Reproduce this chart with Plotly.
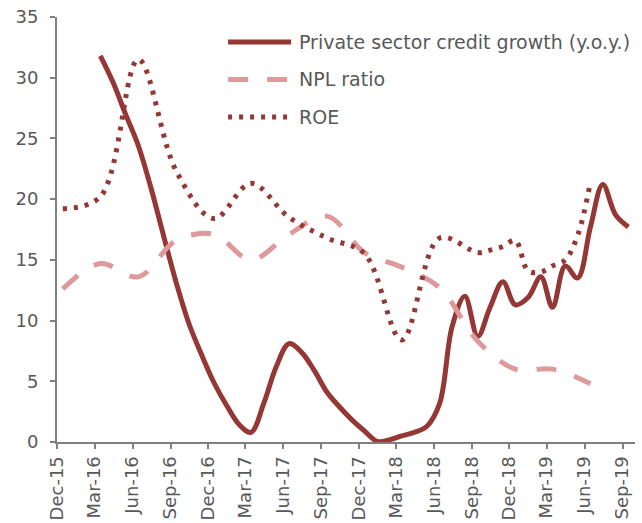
import pandas as pd
import plotly.graph_objects as go

# Private sector credit growth (y.o.y., %), monthly Mar-16 .. Sep-19
credit_start, credit_end = "2016-03", "2019-09"
credit_values = [31.8, 29.6, 27.0, 24.4, 21.0, 17.0, 13.1, 9.8, 7.2, 4.9,
                 3.0, 1.4, 0.8, 3.2, 6.2, 8.1, 7.4, 5.9, 4.1, 2.9,
                 1.8, 0.9, 0.05, 0.2, 0.5, 0.8, 1.3, 3.2, 9.5, 12.0,
                 8.7, 11.1, 13.2, 11.3, 11.9, 13.6, 11.1, 14.5, 13.5, 17.7,
                 21.2, 18.7, 17.7]

# NPL ratio (%), quarterly Dec-15 .. Jun-19
npl_months = ["2015-12", "2016-03", "2016-06", "2016-09", "2016-12",
              "2017-03", "2017-06", "2017-09", "2017-12", "2018-03",
              "2018-06", "2018-09", "2018-12", "2019-03", "2019-06"]
npl_values = [12.6, 14.7, 13.6, 16.6, 17.1, 15.0, 17.1, 18.6, 15.6, 14.4,
              12.7, 8.3, 6.0, 6.0, 4.8]

# ROE (%), quarterly to Sep-18, monthly afterwards
roe_months = ["2015-12", "2016-03", "2016-06", "2016-09", "2016-12",
              "2017-03", "2017-06", "2017-09", "2017-12", "2018-03",
              "2018-06", "2018-09", "2018-10", "2018-11", "2018-12",
              "2019-01", "2019-02", "2019-03", "2019-04", "2019-05",
              "2019-06"]
roe_values = [19.2, 20.2, 31.5, 22.3, 18.4, 21.3, 18.5, 16.8, 15.5, 8.4,
              16.8, 15.6, 15.8, 16.1, 16.6, 14.1, 14.0, 14.5, 15.0, 17.0,
              21.4]

# Axis tick labels (quarterly)
tick_months = ["2015-12", "2016-03", "2016-06", "2016-09", "2016-12",
               "2017-03", "2017-06", "2017-09", "2017-12", "2018-03",
               "2018-06", "2018-09", "2018-12", "2019-03", "2019-06",
               "2019-09"]
tick_labels = ["Dec-15", "Mar-16", "Jun-16", "Sep-16", "Dec-16", "Mar-17",
               "Jun-17", "Sep-17", "Dec-17", "Mar-18", "Jun-18", "Sep-18",
               "Dec-18", "Mar-19", "Jun-19", "Sep-19"]

series_names = ["Private sector credit growth (y.o.y.)", "NPL ratio", "ROE"]

DARK_RED = "#953735"
PINK = "#DE9A9A"
AXIS_GREY = "#808080"
TEXT_GREY = "#595959"
FONT = "DejaVu Sans"
DASH = "20px,19px"
DOT = "4px,7px"


def mid_month(months):
    # observations sit in the middle of their month
    return [pd.Timestamp(m + "-01") + pd.Timedelta(days=14) for m in months]


credit_months = [d.strftime("%Y-%m") for d in
                 pd.period_range(credit_start, credit_end, freq="M").to_timestamp()]

fig = go.Figure()

fig.add_trace(go.Scatter(
    x=mid_month(credit_months), y=credit_values, name=series_names[0],
    mode="lines", line=dict(color=DARK_RED, width=5, shape="spline", smoothing=1),
))
fig.add_trace(go.Scatter(
    x=mid_month(npl_months), y=npl_values, name=series_names[1],
    mode="lines", line=dict(color=PINK, width=5, shape="spline", smoothing=1,
                            dash=DASH),
))
fig.add_trace(go.Scatter(
    x=mid_month(roe_months), y=roe_values, name=series_names[2],
    mode="lines", line=dict(color=DARK_RED, width=5, shape="spline", smoothing=1,
                            dash=DOT),
))

# Legend drawn as line samples with labels inside the plot area
legend_rows = [
    (0.941, DARK_RED, "solid"),
    (0.853, PINK, DASH),
    (0.765, DARK_RED, DOT),
]
shapes = []
annotations = []
for (yy, col, dash), name in zip(legend_rows, series_names):
    shapes.append(dict(type="line", xref="paper", yref="paper",
                       x0=0.296, x1=0.405, y0=yy, y1=yy,
                       line=dict(color=col, width=5, dash=dash)))
    annotations.append(dict(xref="paper", yref="paper", x=0.415, y=yy,
                            text=name, showarrow=False, xanchor="left",
                            yanchor="middle",
                            font=dict(family=FONT, size=19, color=TEXT_GREY)))

fig.update_layout(
    width=642, height=523,
    margin=dict(l=57, r=7, t=17, b=81, autoexpand=False),
    plot_bgcolor="white", paper_bgcolor="white",
    showlegend=False,
    shapes=shapes, annotations=annotations,
    font=dict(family=FONT, size=18, color=TEXT_GREY),
)

fig.update_xaxes(
    type="date",
    range=["2015-12-01", "2019-10-01"],
    tickvals=[pd.Timestamp(m + "-01") for m in tick_months],
    ticktext=tick_labels, tickangle=-90, automargin=False,
    ticks="outside", ticklen=5, tickwidth=2, tickcolor=AXIS_GREY,
    showline=True, linecolor=AXIS_GREY, linewidth=2,
    showgrid=False, zeroline=False,
    tickfont=dict(family=FONT, size=18, color=TEXT_GREY),
)
fig.update_yaxes(
    range=[0, 35], tickvals=[0, 5, 10, 15, 20, 25, 30, 35],
    ticks="outside", ticklen=5, tickwidth=2, tickcolor=AXIS_GREY,
    showline=True, linecolor=AXIS_GREY, linewidth=2, automargin=False,
    showgrid=False, zeroline=False, ticklabelstandoff=8,
    tickfont=dict(family=FONT, size=18, color=TEXT_GREY),
)

fig.write_html("out.html")
